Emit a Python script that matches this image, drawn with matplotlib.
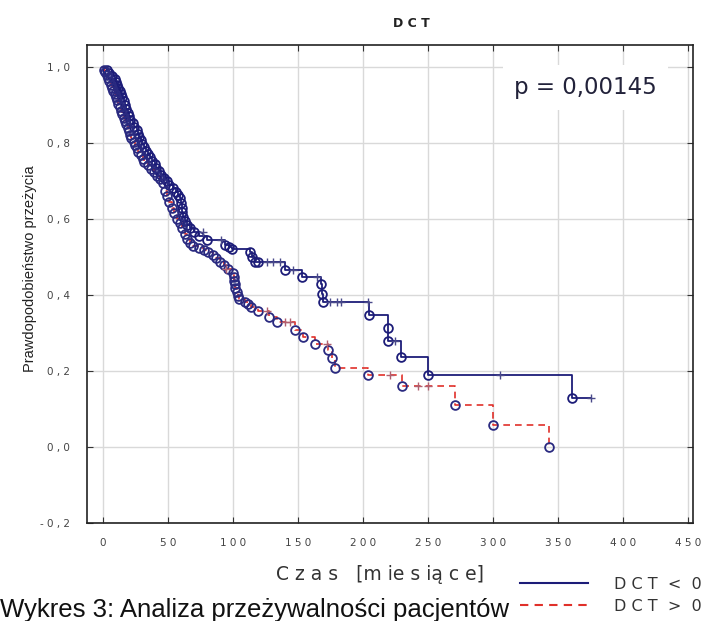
import numpy as np
import matplotlib.pyplot as plt
from matplotlib.lines import Line2D

# --- dane (czas w miesiącach, prawdopodobieństwo przeżycia) ---
# DCT < 0 : zdarzenia (czas, S po zdarzeniu)
g1_t = [0, 3, 5, 7, 9, 10, 11, 12, 13, 14, 15, 16, 17, 18, 19, 20, 21, 23, 24, 26,
        27, 28, 29, 30, 32, 33, 35, 36, 38, 40, 41, 43, 45, 47, 49, 51, 54, 56,
        58, 59, 60, 60.5, 61, 62, 63, 65, 67, 70, 74, 80, 94, 97, 99, 113, 115,
        117, 119, 140, 153, 168, 168.5, 169, 205, 219, 219.5, 229, 250, 361]
g1_s = [1.0, 0.992, 0.984, 0.976, 0.968, 0.96, 0.952, 0.944, 0.936, 0.928, 0.92,
        0.91, 0.9, 0.89, 0.88, 0.87, 0.86, 0.852, 0.843, 0.834, 0.825, 0.816,
        0.807, 0.798, 0.789, 0.78, 0.771, 0.762, 0.753, 0.744, 0.735, 0.726,
        0.717, 0.708, 0.699, 0.69, 0.681, 0.672, 0.663, 0.654, 0.642, 0.63,
        0.618, 0.606, 0.595, 0.585, 0.576, 0.566, 0.556, 0.545, 0.532, 0.526,
        0.52, 0.513, 0.5, 0.487, 0.487, 0.466, 0.448, 0.43, 0.403, 0.382,
        0.346, 0.314, 0.28, 0.236, 0.188, 0.128]
g1_end = 375
# DCT < 0 : obserwacje ucięte
g1_cens_t = [77, 91, 126, 131, 136, 146, 165, 175, 180, 183, 204, 225, 305, 375]
g1_cens_s = [0.566, 0.545, 0.487, 0.487, 0.487, 0.466, 0.448, 0.382, 0.382,
             0.382, 0.382, 0.28, 0.188, 0.128]

# DCT > 0
g2_t = [0, 1, 2, 3, 4, 5, 6, 7, 8, 9, 10, 11, 12, 13, 14, 15, 16, 17, 18, 19,
        20, 21, 22, 24, 25, 26, 27, 29, 31, 32, 35, 37, 39, 42, 44, 46, 48, 49,
        51, 53, 55, 57, 59, 61, 63, 65, 67, 69, 74, 78, 81, 85, 87, 90, 93, 96,
        100, 100.5, 101, 101.5, 102, 103, 104, 105, 109, 112, 114, 119, 128,
        134, 148, 154, 163, 173, 176, 178.5, 204, 230, 271, 300, 343]
g2_s = [1.0, 0.993, 0.986, 0.978, 0.97, 0.962, 0.954, 0.946, 0.938, 0.93, 0.921,
        0.912, 0.903, 0.894, 0.885, 0.876, 0.867, 0.858, 0.849, 0.84, 0.831,
        0.822, 0.813, 0.804, 0.795, 0.786, 0.777, 0.768, 0.759, 0.75, 0.741,
        0.732, 0.723, 0.714, 0.705, 0.695, 0.675, 0.66, 0.645, 0.63, 0.615,
        0.6, 0.59, 0.575, 0.56, 0.547, 0.538, 0.529, 0.523, 0.518, 0.513,
        0.505, 0.497, 0.487, 0.478, 0.468, 0.458, 0.448, 0.438, 0.428, 0.418,
        0.408, 0.398, 0.39, 0.382, 0.375, 0.369, 0.359, 0.343, 0.33, 0.309,
        0.29, 0.272, 0.254, 0.233, 0.207, 0.188, 0.16, 0.11, 0.058, 0.0]
g2_cens_t = [95, 126, 140, 144, 172, 221, 242, 250]
g2_cens_s = [0.468, 0.359, 0.33, 0.33, 0.272, 0.188, 0.16, 0.16]

x_ticks = [0, 50, 100, 150, 200, 250, 300, 350, 400, 450]
y_ticks = [-0.2, 0.0, 0.2, 0.4, 0.6, 0.8, 1.0]
x_labels = ['0', '5 0', '1 0 0', '1 5 0', '2 0 0', '2 5 0', '3 0 0', '3 5 0', '4 0 0', '4 5 0']
y_labels = ['- 0 , 2', '0 , 0', '0 , 2', '0 , 4', '0 , 6', '0 , 8', '1 , 0']

navy = '#1c1c78'
red = '#e0302a'

fig = plt.figure(figsize=(7.06, 6.21), dpi=100)
ax = fig.add_axes([0.123, 0.158, 0.859, 0.7695])

# linie schodkowe
ax.step(g1_t + [g1_end], g1_s + [g1_s[-1]], where='post', color=navy, lw=1.3, zorder=3)
ax.step(g2_t, g2_s, where='post', color=red, lw=1.2, ls=(0, (4, 3)), zorder=3)

# zdarzenia (kółka) i obserwacje ucięte (+)
ax.plot(g1_t[1:], g1_s[1:], 'o', ms=6.3, mfc='none', mec=navy, mew=1.3, zorder=4)
ax.plot(g2_t[1:], g2_s[1:], 'o', ms=6.3, mfc='none', mec='#2a2a80', mew=1.3, zorder=4)
ax.plot(g1_cens_t, g1_cens_s, '+', ms=6, color='#4a4a8a', mew=1.0, zorder=4)
ax.plot(g2_cens_t, g2_cens_s, '+', ms=6, color='#b06070', mew=1.0, zorder=4)

ax.set_xlim(-12.3, 454)
ax.set_ylim(-0.2, 1.058)
ax.set_xticks(x_ticks)
ax.set_xticklabels(x_labels)
ax.set_yticks(y_ticks)
ax.set_yticklabels(y_labels)
ax.tick_params(direction='in', length=4, width=0.8, colors='#333333', labelsize=7.5,
               labelcolor='#444444', top=True, right=True)
ax.tick_params(axis='x', pad=11)
ax.tick_params(axis='y', pad=12)
ax.grid(True, color='#d9d9d9', lw=1.0)
ax.set_axisbelow(True)
for sp in ax.spines.values():
    sp.set_linewidth(1.2)
    sp.set_color('#222222')

ax.text(0.822, 0.912, 'p = 0,00145', transform=ax.transAxes, ha='center', va='center',
        fontsize=16.5, family='DejaVu Sans', color='#22223a', zorder=6,
        bbox=dict(facecolor='white', edgecolor='none', pad=8))

fig.text(0.582, 0.962, 'D C T', ha='center', va='center', fontsize=9,
         fontweight='bold', color='#222222')
fig.text(0.043, 0.567, 'Prawdopodobieństwo przeżycia', rotation=90, ha='center',
         va='center', fontsize=10.5, family='Liberation Sans', color='#222222')
fig.text(0.538, 0.075, 'C z a s   [m ie s ią c e]', ha='center', va='center',
         fontsize=13.5, color='#333333')

h1 = Line2D([], [], color=navy, lw=1.5)
h2 = Line2D([], [], color=red, lw=1.5, ls=(0, (4, 3)))
fig.legend([h1, h2], ['D C T  <  0', 'D C T  >  0'], loc='lower right',
           bbox_to_anchor=(1.014, -0.012), frameon=False, fontsize=11.5,
           handlelength=4.3, handletextpad=1.6, labelspacing=0.45,
           labelcolor='#333333')

fig.text(0.0, 0.0064, 'Wykres 3: Analiza przeżywalności pacjentów', ha='left', va='baseline',
         fontsize=18.5, family='Liberation Sans', color='#111111')

fig.savefig('out.png', dpi=100)
